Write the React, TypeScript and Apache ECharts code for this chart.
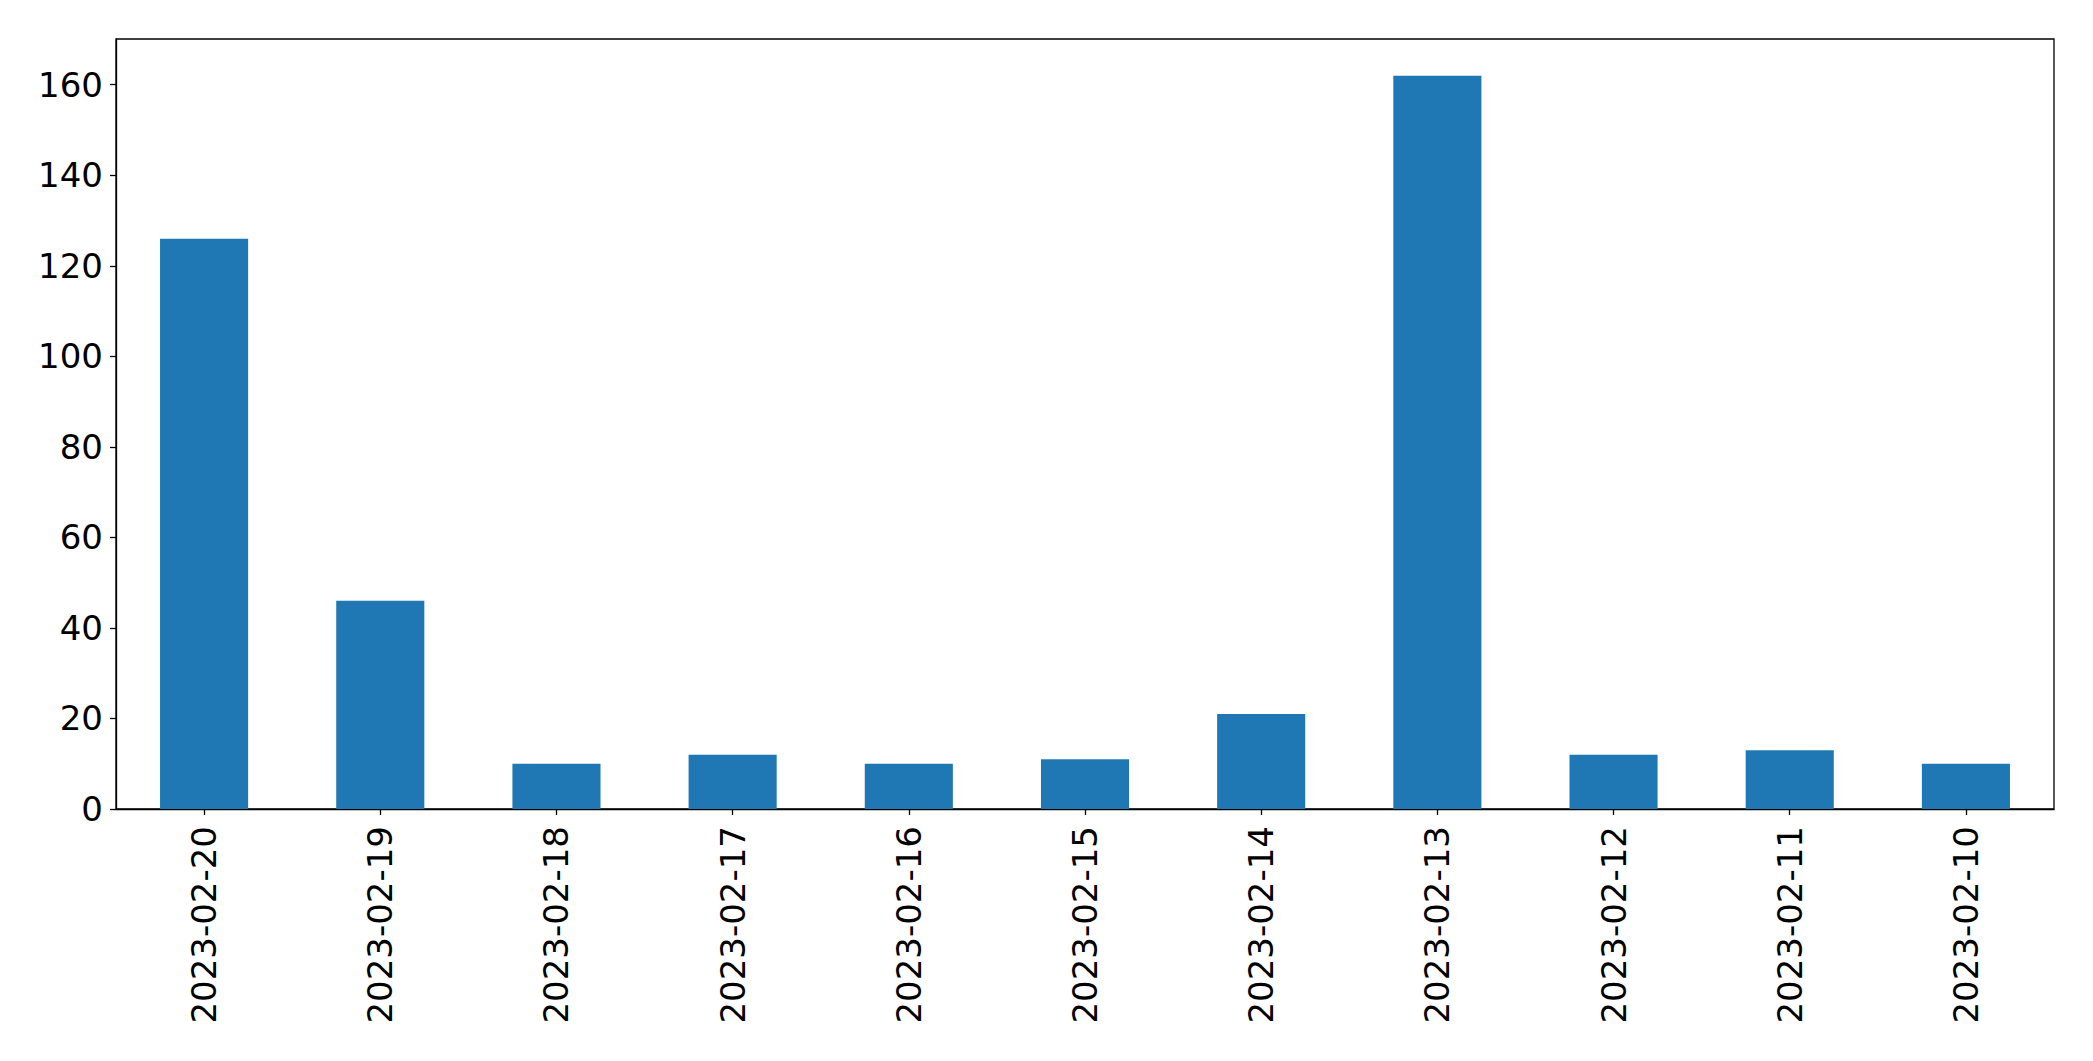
import React, { useEffect, useRef } from "react";
import * as echarts from "echarts";

const categories = [
  "2023-02-20", "2023-02-19", "2023-02-18", "2023-02-17", "2023-02-16", "2023-02-15",
  "2023-02-14", "2023-02-13", "2023-02-12", "2023-02-11", "2023-02-10",
];
const values = [126, 46, 10, 12, 10, 11, 21, 162, 12, 13, 10];
const yTicks = [0, 20, 40, 60, 80, 100, 120, 140, 160];

export default function App() {
  const ref = useRef<HTMLDivElement>(null);
  useEffect(() => {
    if (!ref.current) return;
    const chart = echarts.init(ref.current, null, { renderer: "svg" });
    const font = "'DejaVu Sans', sans-serif";
    chart.setOption({
      animation: false,
      backgroundColor: "#ffffff",
      grid: {
        left: 116, right: 39, top: 39, bottom: 252,
        show: true, borderColor: "#000000", borderWidth: 1.3, backgroundColor: "transparent",
      },
      xAxis: {
        type: "category",
        data: categories,
        axisLine: { show: true, lineStyle: { color: "#000000", width: 1.3 } },
        axisTick: { show: true, alignWithLabel: true, length: 6, lineStyle: { color: "#000000", width: 1.3 } },
        axisLabel: { rotate: 90, margin: 17, color: "#000000", fontSize: 34, fontFamily: font, interval: 0 },
        splitLine: { show: false },
      },
      yAxis: {
        type: "value",
        min: 0,
        max: 170.1,
        interval: 20,
        axisLine: { show: true, lineStyle: { color: "#000000", width: 1.3 } },
        axisTick: { show: true, length: 6, customValues: yTicks, lineStyle: { color: "#000000", width: 1.3 } },
        axisLabel: { margin: 13, color: "#000000", fontSize: 34, fontFamily: font, customValues: yTicks },
        splitLine: { show: false },
      },
      series: [
        {
          type: "bar",
          data: values,
          barWidth: "50%",
          itemStyle: { color: "#1f77b4" },
        },
      ],
    });
    return () => chart.dispose();
  }, []);
  return (
    <div
      ref={ref}
      style={{ position: "fixed", left: 0, top: 0, width: 2093, height: 1061, background: "#fff" }}
    />
  );
}
